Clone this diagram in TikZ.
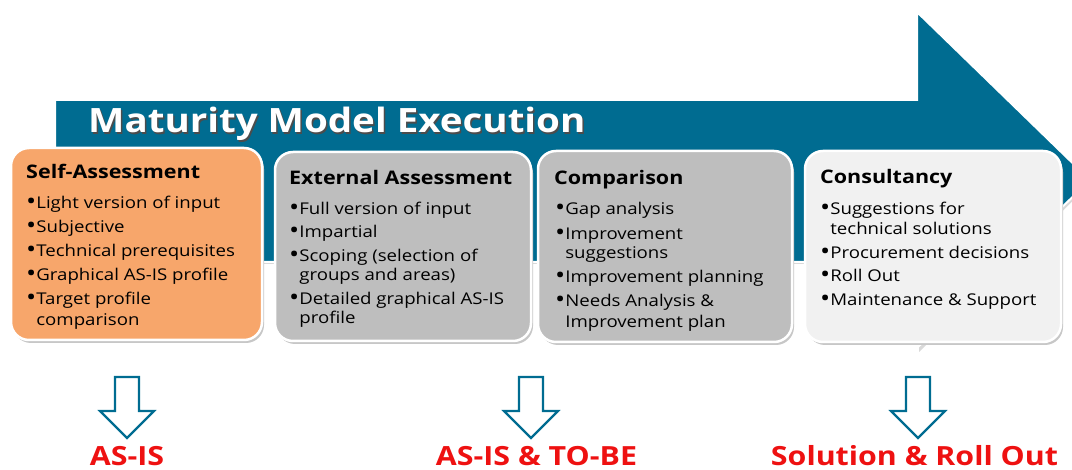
\documentclass[tikz,border=0pt]{standalone}
\usepackage{fontspec}
\setmainfont{Open Sans}[FakeStretch=1.15]
\definecolor{mmteal}{HTML}{006C91}
\definecolor{mmorange}{HTML}{F7A66B}
\definecolor{mmgray}{HTML}{BEBEBE}
\definecolor{mmlight}{HTML}{F1F1F1}
\definecolor{mmred}{HTML}{EE1111}
\newcommand\mmbul{\raisebox{-0.6pt}{\scalebox{1.45}{•}}}
\begin{document}
\begin{tikzpicture}[x=1pt,y=-1pt,
  boxst/.style={draw=white, line width=2.5pt, rounded corners=18pt},
  shd/.style={fill=black!22, rounded corners=18pt},
  hd/.style={anchor=base west, inner sep=0pt, font=\fontsize{18.7}{18.7}\bfseries\selectfont},
  ln/.style={anchor=base west, inner sep=0pt, font=\fontsize{16.2}{16.2}\selectfont},
  lab/.style={anchor=base, inner sep=0pt, text depth=0pt, text=mmred, font=\fontsize{26.4}{26.4}\bfseries\selectfont},
  ttl/.style={anchor=base west, inner sep=0pt, font=\fontsize{33.5}{33.5}\bfseries\selectfont},
  darr/.style={draw=mmteal, line width=2.2pt, fill=white, line join=miter}]
\useasboundingbox (0,0) rectangle (1072,470);
\clip (0,0) rectangle (1072,470);
% big arrow
\fill[black!15] (57,102) -- (919,102) -- (919,14) -- (1092,182) -- (919,352) -- (919,264) -- (57,264) -- cycle;
\draw[draw=white, line width=2pt, fill=mmteal] (55,100) -- (917,100) -- (917,12) -- (1090,180) -- (917,348) -- (917,262) -- (55,262) -- cycle;
\node[ttl, text=black!70] (titleshadow) at (89.5,134.5) {Maturity Model Execution};
\node[ttl, text=white] (title) at (88,133) {Maturity Model Execution};
% boxes
\foreach \xa/\ya/\xb/\yb/\c [count=\i] in {11/148/262/340/mmorange, 275/152/531/341/mmgray, 538/151/792/342/mmgray, 805/151/1061/342/mmlight}{
  \fill[shd] (\xa+2,\ya+3) rectangle (\xb+2,\yb+3);
  \draw[boxst, fill=\c] (\xa,\ya) rectangle (\xb,\yb);
}
% box 1
\node[hd] (h1) at (26,179) {Self-Assessment};
\node[ln] (a1) at (26,209) {\mmbul Light version of input};
\node[ln] (a2) at (26,233) {\mmbul Subjective};
\node[ln] (a3) at (26,257) {\mmbul Technical prerequisites};
\node[ln] (a4) at (26,281) {\mmbul Graphical AS-IS profile};
\node[ln] (a5) at (26,305) {\mmbul Target profile};
\node[ln] (a6) at (26,326) {\phantom{\mmbul}comparison};
% box 2
\node[hd] (h2) at (289,185) {External Assessment};
\node[ln] (b1) at (289,215) {\mmbul Full version of input};
\node[ln] (b2) at (289,238) {\mmbul Impartial};
\node[ln] (b3) at (289,262) {\mmbul Scoping (selection of};
\node[ln] (b4) at (289,281) {\phantom{\mmbul}groups and areas)};
\node[ln] (b5) at (289,305) {\mmbul Detailed graphical AS-IS};
\node[ln] (b6) at (289,324) {\phantom{\mmbul}profile};
% box 3
\node[hd] (h3) at (554,185) {Comparison};
\node[ln] (c1) at (555,215) {\mmbul Gap analysis};
\node[ln] (c2) at (555,240) {\mmbul Improvement};
\node[ln] (c3) at (555,259) {\phantom{\mmbul}suggestions};
\node[ln] (c4) at (555,283) {\mmbul Improvement planning};
\node[ln] (c5) at (555,307) {\mmbul Needs Analysis \&};
\node[ln] (c6) at (555,328) {\phantom{\mmbul}Improvement plan};
% box 4
\node[hd] (h4) at (820,184) {Consultancy};
\node[ln] (d1) at (820,215) {\mmbul Suggestions for};
\node[ln] (d2) at (820,235) {\phantom{\mmbul}technical solutions};
\node[ln] (d3) at (820,259) {\mmbul Procurement decisions};
\node[ln] (d4) at (820,282) {\mmbul Roll Out};
\node[ln] (d5) at (820,306) {\mmbul Maintenance \& Support};
% down arrows
\foreach \cx in {127,531,918}{
  \draw[darr] ({\cx-12},377) -- ({\cx+12},377) -- ({\cx+12},411) -- ({\cx+27},411) -- (\cx,438) -- ({\cx-27},411) -- ({\cx-12},411) -- cycle;
}
% labels
\node[lab] (l1) at (127,465) {AS-IS};
\node[lab] (l2) at (536.5,465) {AS-IS \& TO-BE};
\node[lab] (l3) at (914.5,465) {Solution \& Roll Out};
\end{tikzpicture}
\end{document}
